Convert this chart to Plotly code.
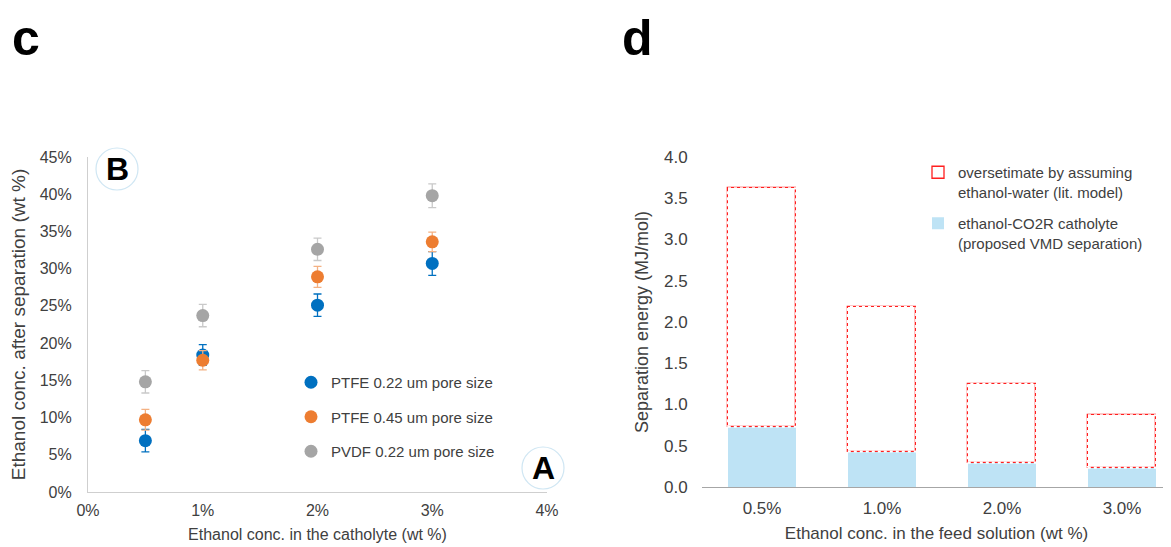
import plotly.graph_objects as go

W, H = 1171, 547
OFF = 8  # page body margin

# ---------- panel c data ----------
feed_conc = [0.005, 0.01, 0.02, 0.03]
ptfe022 = [0.069, 0.184, 0.251, 0.307]
ptfe022_err = [0.015, 0.014, 0.015, 0.016]
ptfe045 = [0.097, 0.177, 0.289, 0.336]
ptfe045_err = [0.014, 0.013, 0.014, 0.013]
pvdf022 = [0.148, 0.237, 0.326, 0.398]
pvdf022_err = [0.015, 0.015, 0.015, 0.016]

# ---------- panel d data ----------
categories = ["0.5%", "1.0%", "2.0%", "3.0%"]
vmd_energy = [0.73, 0.43, 0.295, 0.235]
lit_energy = [3.62, 2.18, 1.25, 0.87]

FONT = "Liberation Sans, Arial, sans-serif"
TXT = "#404040"

def px_x(p):
    return (p - OFF) / W

def px_y(p):
    return 1 - (p - OFF) / H

fig = go.Figure()

series = [
    ("PTFE 0.22 um pore size", ptfe022, ptfe022_err, "#0070C0", "#0070C0"),
    ("PTFE 0.45 um pore size", ptfe045, ptfe045_err, "#ED7D31", "#F4B183"),
    ("PVDF 0.22 um pore size", pvdf022, pvdf022_err, "#A5A5A5", "#C9C9C9"),
]
for i, (name, vals, errs, col, ecol) in enumerate(series):
    fig.add_trace(go.Scatter(
        x=feed_conc, y=vals, mode="markers", name=name,
        marker=dict(color=col, size=13),
        error_y=dict(type="data", array=errs, visible=True, color=ecol,
                     thickness=1.3, width=4),
        xaxis="x", yaxis="y", legend="legend", legendgroup=f"g{i}",
    ))

# panel d bars
bar_w = 0.57
xs = list(range(len(categories)))
fig.add_trace(go.Bar(
    x=xs, y=vmd_energy, width=bar_w, name="ethanol-CO2R catholyte<br>(proposed VMD separation)",
    marker=dict(color="#BEE3F5", line=dict(width=0)),
    xaxis="x2", yaxis="y2", legend="legend2", legendrank=2, legendgroup="b2",
))
fig.add_trace(go.Bar(
    x=xs, y=[t - b for t, b in zip(lit_energy, vmd_energy)], base=vmd_energy, width=bar_w,
    name="oversetimate by assuming<br>ethanol-water (lit. model)",
    marker=dict(color="rgba(0,0,0,0)", line=dict(color="#FF1F1F", width=1.3)),
    xaxis="x2", yaxis="y2", legend="legend2", legendrank=1, legendgroup="b1",
))
# dotted appearance of the outline
ox, oy = [], []
for i, (b, t) in enumerate(zip(vmd_energy, lit_energy)):
    ox += [i - bar_w / 2, i + bar_w / 2, i + bar_w / 2, i - bar_w / 2, i - bar_w / 2, None]
    oy += [b, b, t, t, b, None]
fig.add_trace(go.Scatter(
    x=ox, y=oy, mode="lines", line=dict(color="white", width=2.2, dash="dot"),
    showlegend=False, hoverinfo="skip", xaxis="x2", yaxis="y2",
))

fig.update_layout(
    width=W, height=H, margin=dict(l=0, r=0, t=0, b=0, autoexpand=False),
    paper_bgcolor="white", plot_bgcolor="white",
    font=dict(family=FONT, color=TXT, size=16),
    barmode="overlay", bargap=0,
    xaxis=dict(
        domain=[px_x(88), px_x(547)], range=[0, 0.04], dtick=0.01, tickformat=".0%",
        showgrid=False, zeroline=False, showline=True, linecolor="#CFCFCF", linewidth=1.2,
        ticks="outside", ticklen=4, tickcolor="rgba(0,0,0,0)",
        tickfont=dict(size=16, color=TXT), automargin=False,
        title=dict(text="Ethanol conc. in the catholyte (wt %)", font=dict(size=16, color=TXT), standoff=10),
        anchor="y",
    ),
    yaxis=dict(
        domain=[px_y(492), px_y(157)], range=[0, 0.45], dtick=0.05, tickformat=".0%",
        showgrid=False, zeroline=False, showline=True, linecolor="#CFCFCF", linewidth=1.2,
        ticks="outside", ticklen=12, tickcolor="rgba(0,0,0,0)",
        tickfont=dict(size=16, color=TXT), automargin=False,
        title=dict(text="Ethanol conc. after separation (wt %)", font=dict(size=19, color=TXT), standoff=10),
        anchor="x",
    ),
    xaxis2=dict(
        domain=[px_x(702), px_x(1171)], range=[-0.5, -0.5 + (1171 - 702) / 120.0],
        tickvals=xs, ticktext=categories,
        showgrid=False, zeroline=False, showline=True, linecolor="#A6A6A6", linewidth=1.2,
        ticks="outside", ticklen=5, tickcolor="rgba(0,0,0,0)",
        tickfont=dict(size=17, color=TXT), automargin=False,
        title=dict(text="Ethanol conc. in the feed solution (wt %)", font=dict(size=17, color=TXT), standoff=10),
        anchor="y2",
    ),
    yaxis2=dict(
        domain=[px_y(487), px_y(157)], range=[0, 4.0], dtick=0.5, tickformat=".1f",
        showgrid=False, zeroline=False, showline=False,
        ticks="outside", ticklen=10, tickcolor="rgba(0,0,0,0)",
        tickfont=dict(size=17, color=TXT), automargin=False,
        title=dict(text="Separation energy (MJ/mol)", font=dict(size=18, color=TXT), standoff=10),
        anchor="x2",
    ),
    legend=dict(
        x=px_x(291), y=px_y(366), xanchor="left", yanchor="top",
        bgcolor="rgba(0,0,0,0)", font=dict(size=15, color=TXT),
        tracegroupgap=12, traceorder="grouped", itemwidth=30,
    ),
    legend2=dict(
        x=px_x(918), y=px_y(156), xanchor="left", yanchor="top",
        bgcolor="rgba(0,0,0,0)", font=dict(size=15, color=TXT),
        tracegroupgap=9, traceorder="grouped", itemwidth=30, valign="top",
    ),
    showlegend=True,
)

# circled letters B and A
for cx, cy, letter in [(117, 169, "B"), (543, 468, "A")]:
    r = 21
    fig.add_shape(type="circle", xref="paper", yref="paper",
                  x0=px_x(cx - r), x1=px_x(cx + r), y0=px_y(cy + r), y1=px_y(cy - r),
                  line=dict(color="#CFE6F3", width=1.2), fillcolor="white", layer="above")
    fig.add_annotation(x=px_x(cx), y=px_y(cy), xref="paper", yref="paper",
                       text=f"<b>{letter}</b>", showarrow=False,
                       font=dict(size=32, color="black", family="Liberation Sans, Arial"),
                       xanchor="center", yanchor="middle")

# panel letters
for lx, letter in [(10, "c"), (620, "d")]:
    fig.add_annotation(x=px_x(lx), y=1.0, xref="paper", yref="paper",
                       text=f"<b>{letter}</b>", showarrow=False,
                       font=dict(size=50, color="black",
                                 family="Liberation Sans Narrow, Liberation Sans, Arial"),
                       xanchor="left", yanchor="top")

fig.write_html("out.html")
